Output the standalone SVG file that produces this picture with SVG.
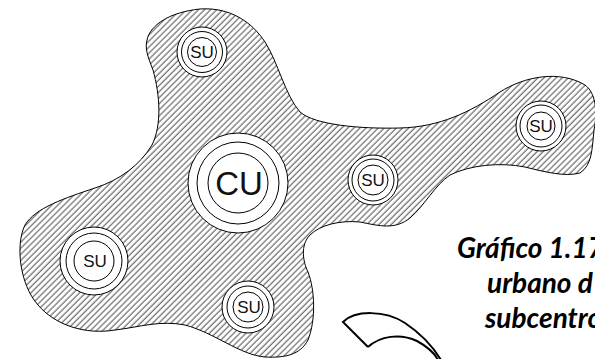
<svg xmlns="http://www.w3.org/2000/svg" width="595" height="359" viewBox="0 0 595 359">
<style>
.ring{fill:none;stroke:#000;stroke-width:1}
.outer{fill:#fff;stroke:#000;stroke-width:1}
.lbl{font-family:"Liberation Sans",Arial,sans-serif;text-anchor:middle;fill:#111}
.cap{font-family:Lato,"Noto Sans",sans-serif;font-weight:bold;font-style:italic;font-size:28px;fill:#000}
</style>
<defs>
<pattern id="hatch" width="4.3" height="4.3" patternUnits="userSpaceOnUse" patternTransform="rotate(45)">
<line x1="1" y1="-1" x2="1" y2="6" stroke="#000" stroke-width="0.7"/>
</pattern>
</defs>
<g id="region">
<path fill="url(#hatch)" stroke="#000" stroke-width="1" d="M147,40 C150,25 170,12 200,9 C230,7 252,22 265,42 C278,62 285,95 300,112 C315,125 360,129 400,128 C440,127 470,112 500,92 C525,76 560,70 585,85 C595,92 598,110 594,130 C592,150 592,165 580,173 C565,177 545,172 525,167 C500,162 470,165 450,175 C435,185 425,205 410,218 C395,230 380,226 360,222 C340,220 320,225 310,235 C300,245 303,262 308,272 C315,290 316,320 308,340 C300,355 285,358 265,357 C240,355 215,333 185,325 C160,320 140,327 115,330 C85,335 55,325 38,305 C20,285 15,245 25,225 C35,208 65,198 95,188 C120,180 140,165 152,145 C162,125 160,95 153,70 C147,55 145,48 147,40 Z"/>
</g>
<g id="cu">
<circle class="outer" cx="238" cy="183" r="50"/>
<circle class="ring" cx="238" cy="183" r="41"/>
<circle class="ring" cx="238" cy="183" r="30"/>
<text class="lbl" x="239" y="195" font-size="33">CU</text>
</g>
<g id="su-top">
<circle class="outer" cx="202" cy="52" r="25"/>
<circle class="ring" cx="202" cy="52" r="20.5"/>
<circle class="ring" cx="202" cy="52" r="14.5"/>
<text class="lbl" x="202" y="58" font-size="17">SU</text>
</g>
<g id="su-right">
<circle class="outer" cx="541" cy="126" r="25"/>
<circle class="ring" cx="541" cy="126" r="21"/>
<circle class="ring" cx="541" cy="126" r="14"/>
<text class="lbl" x="541" y="132" font-size="17">SU</text>
</g>
<g id="su-mid">
<circle class="outer" cx="373" cy="180" r="25"/>
<circle class="ring" cx="373" cy="180" r="21"/>
<circle class="ring" cx="373" cy="180" r="15"/>
<text class="lbl" x="373" y="186" font-size="17">SU</text>
</g>
<g id="su-left">
<circle class="outer" cx="94" cy="261" r="34"/>
<circle class="ring" cx="94" cy="261" r="28"/>
<circle class="ring" cx="94" cy="261" r="20"/>
<text class="lbl" x="95" y="267" font-size="17">SU</text>
</g>
<g id="su-bottom">
<circle class="outer" cx="248" cy="307" r="26"/>
<circle class="ring" cx="248" cy="307" r="21"/>
<circle class="ring" cx="248" cy="307" r="15"/>
<text class="lbl" x="249" y="313" font-size="17">SU</text>
</g>
<g id="connectors"></g>
<g id="fragment" fill="none" stroke="#000" stroke-width="2">
<path d="M368,347 L343,322 C355,310 385,310 405,323 C420,333 432,345 441,360"/>
<path d="M368,347 C380,336 400,333 417,341 C428,347 434,352 438,360"/>
</g>
<g id="caption">
<text class="cap" x="457" y="258">Gráfico 1.17</text>
<text class="cap" x="487" y="293">urbano d</text>
<text class="cap" x="485" y="328">subcentro</text>
</g>
</svg>
